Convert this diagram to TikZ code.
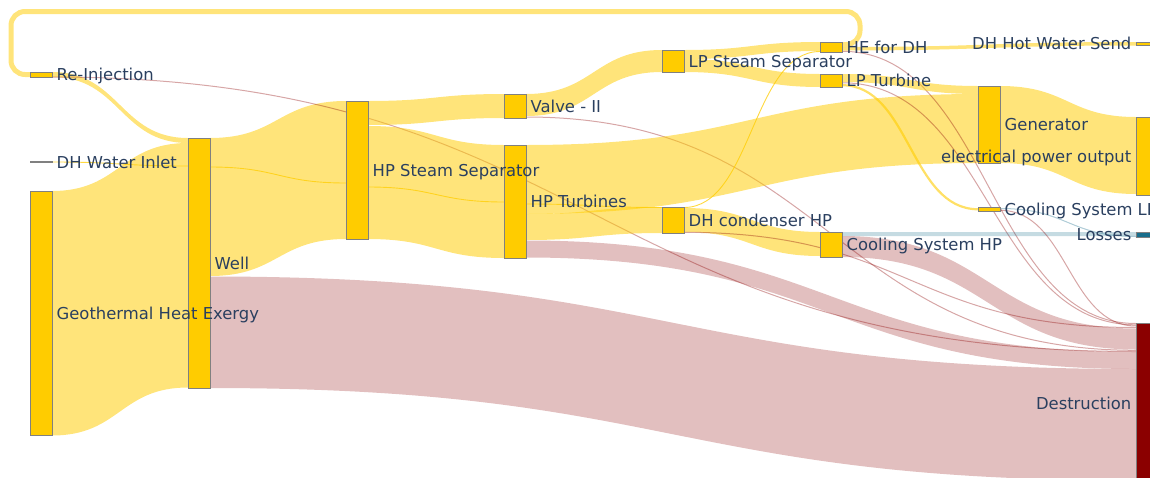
\documentclass[tikz,border=0pt]{standalone}
\usepackage{fontspec}
\setmainfont{DejaVu Sans}
\usetikzlibrary{calc}

\definecolor{nodegold}{RGB}{255,204,0}
\definecolor{nodeedge}{RGB}{128,128,128}
\definecolor{lossteal}{RGB}{25,110,140}
\definecolor{destred}{RGB}{139,0,0}
\definecolor{labelink}{RGB}{42,63,95}

\pgfdeclarelayer{flows}
\pgfsetlayers{flows,main}

% band of given thickness from the right side of one unit to the left side of another
\newcommand\bandflow[6]{%
  \path ($(#2.north east)+(0,#3)$) coordinate (fa)
        ($(#5.north west)+(0,#6)$) coordinate (fb);
  \path ($(fa)!0.5!(fb)$) coordinate (fm)
        (fa) ++(0,#4) coordinate (fc)
        (fb) ++(0,#4) coordinate (fd);
  \fill[#1] (fa) .. controls (fm |- fa) and (fm |- fb) .. (fb) -- (fd)
     .. controls (fm |- fd) and (fm |- fc) .. (fc) -- cycle;}

% hairline stream between two units
\newcommand\lineflow[5]{%
  \path ($(#2.north east)+(0,#3)$) coordinate (fa)
        ($(#4.north west)+(0,#5)$) coordinate (fb);
  \path ($(fa)!0.5!(fb)$) coordinate (fm);
  \draw[#1] (fa) .. controls (fm |- fa) and (fm |- fb) .. (fb);}

\begin{document}
\begin{tikzpicture}[x=1pt,y=-1pt,
  unitbox/.style={draw=nodeedge, line width=0.6pt, fill=nodegold, inner sep=0pt,
    outer sep=0pt, minimum width=22pt},
  lab/.style={text=labelink, font=\fontsize{16.4}{19}\selectfont, inner sep=0pt,
    text height=12pt, text depth=0pt},
  yflow/.style={fill=nodegold, fill opacity=0.52},
  rflow/.style={fill=destred, fill opacity=0.25},
  bflow/.style={fill=lossteal, fill opacity=0.25},
  ythin/.style={draw=nodegold, draw opacity=0.75, line width=0.9pt},
  ythick/.style={draw=nodegold, draw opacity=0.6, line width=2.2pt},
  rthin/.style={draw=destred, draw opacity=0.35, line width=1pt},
  bthin/.style={draw=lossteal, draw opacity=0.35, line width=1pt},
  yloop/.style={draw=nodegold, draw opacity=0.52, line width=5pt, rounded corners=14pt},
]
\useasboundingbox (0,0) rectangle (1150,477);
\clip (0,0) rectangle (1150,477);

% ---- plant units ----
\node[unitbox, minimum height=5.5pt] (reinj) at (41,74.75) {};
\node[unitbox, minimum height=1pt] (dhin) at (41,162) {};
\node[unitbox, minimum height=244.5pt] (geo) at (41,313.25) {};
\node[unitbox, minimum height=250pt] (well) at (199,263) {};
\node[unitbox, minimum height=138pt] (hpsep) at (357,170) {};
\node[unitbox, minimum height=24pt] (valve) at (515,106) {};
\node[unitbox, minimum height=113pt] (hpt) at (515,201.5) {};
\node[unitbox, minimum height=22pt] (lpsep) at (673,61) {};
\node[unitbox, minimum height=26pt] (dhcond) at (673,220) {};
\node[unitbox, minimum height=10pt] (he) at (831,47) {};
\node[unitbox, minimum height=13pt] (lpt) at (831,80.5) {};
\node[unitbox, minimum height=25pt] (coolhp) at (831,244.5) {};
\node[unitbox, minimum height=77pt] (gen) at (989,124.5) {};
\node[unitbox, minimum height=3.5pt] (coollp) at (989,209.25) {};
\node[unitbox, minimum height=3.5pt] (dhhws) at (1147,43.75) {};
\node[unitbox, minimum height=78pt] (epo) at (1147,156) {};
\node[unitbox, minimum height=5pt, fill=lossteal] (losses) at (1147,234.5) {};
\node[unitbox, minimum height=160pt, fill=destred] (destr) at (1147,403) {};

% ---- streams ----
\begin{pgfonlayer}{flows}
\begin{scope}
\clip (0,0) rectangle (1150,477);
\bandflow{yflow}{geo}{0}{244.5}{well}{5}
\bandflow{yflow}{reinj}{0}{5}{well}{0}
\lineflow{ythin}{dhin}{0.5}{well}{28}
\bandflow{yflow}{well}{0}{138}{hpsep}{0}
\bandflow{rflow}{well}{138.5}{111.5}{destr}{46}
\lineflow{ythin}{well}{29}{hpsep}{82}
\lineflow{rthin}{reinj}{5}{destr}{28.5}
\bandflow{yflow}{hpsep}{0}{24}{valve}{0}
\bandflow{yflow}{hpsep}{25}{113}{hpt}{0}
\lineflow{ythin}{hpsep}{86}{hpt}{57}
\bandflow{yflow}{valve}{0}{22}{lpsep}{0}
\lineflow{rthin}{valve}{23}{destr}{27.3}
\bandflow{yflow}{hpt}{0}{69}{gen}{8}
\bandflow{yflow}{hpt}{69}{26}{dhcond}{0}
\bandflow{rflow}{hpt}{95.5}{17}{destr}{29}
\lineflow{ythin}{hpt}{59}{dhcond}{0.5}
\bandflow{yflow}{lpsep}{0}{9}{he}{0}
\bandflow{yflow}{lpsep}{9}{13}{lpt}{0}
\lineflow{ythin}{dhcond}{0.5}{he}{9.5}
\bandflow{yflow}{dhcond}{1}{24}{coolhp}{0}
\lineflow{rthin}{dhcond}{25.3}{destr}{4.5}
% return stream from the heat exchanger back to re-injection
\path ($(he.north east)+(0,2.5)$) coordinate (la)
      ($(reinj.north west)+(0,2.5)$) coordinate (lb);
\coordinate (lc) at (11,11.5);
\draw[yloop] (la) -- ++(18,0) |- (lc) |- (lb);
\bandflow{yflow}{he}{5}{3.5}{dhhws}{0}
\lineflow{rthin}{he}{9.3}{destr}{0.5}
\bandflow{yflow}{lpt}{0}{8}{gen}{0}
\lineflow{rthin}{lpt}{8.8}{destr}{1.8}
\lineflow{ythick}{lpt}{11.2}{coollp}{1.75}
\bandflow{bflow}{coolhp}{0}{4}{losses}{0}
\bandflow{rflow}{coolhp}{4}{21}{destr}{5.5}
\bandflow{yflow}{gen}{0}{77}{epo}{0}
\lineflow{bthin}{coollp}{1}{losses}{4.5}
\lineflow{rthin}{coollp}{2.8}{destr}{3}
\end{scope}
\end{pgfonlayer}

% ---- labels ----
\node[lab, anchor=west] (reinj-t) at ([xshift=4.5pt]reinj.east) {Re-Injection};
\node[lab, anchor=west] (dhin-t) at ([xshift=4.5pt]dhin.east) {DH Water Inlet};
\node[lab, anchor=west] (geo-t) at ([xshift=4.5pt]geo.east) {Geothermal Heat Exergy};
\node[lab, anchor=west] (well-t) at ([xshift=4.5pt]well.east) {Well};
\node[lab, anchor=west] (hpsep-t) at ([xshift=4.5pt]hpsep.east) {HP Steam Separator};
\node[lab, anchor=west] (valve-t) at ([xshift=4.5pt]valve.east) {Valve - II};
\node[lab, anchor=west] (hpt-t) at ([xshift=4.5pt]hpt.east) {HP Turbines};
\node[lab, anchor=west] (lpsep-t) at ([xshift=4.5pt]lpsep.east) {LP Steam Separator};
\node[lab, anchor=west] (dhcond-t) at ([xshift=4.5pt]dhcond.east) {DH condenser HP};
\node[lab, anchor=west] (he-t) at ([xshift=4.5pt]he.east) {HE for DH};
\node[lab, anchor=west] (lpt-t) at ([xshift=4.5pt]lpt.east) {LP Turbine};
\node[lab, anchor=west] (coolhp-t) at ([xshift=4.5pt]coolhp.east) {Cooling System HP};
\node[lab, anchor=west] (gen-t) at ([xshift=4.5pt]gen.east) {Generator};
\node[lab, anchor=west] (coollp-t) at ([xshift=4.5pt]coollp.east) {Cooling System LP};
\node[lab, anchor=east] (dhhws-t) at ([xshift=-4.5pt]dhhws.west) {DH Hot Water Send};
\node[lab, anchor=east] (epo-t) at ([xshift=-4.5pt]epo.west) {electrical power output};
\node[lab, anchor=east] (losses-t) at ([xshift=-4.5pt]losses.west) {Losses};
\node[lab, anchor=east] (destr-t) at ([xshift=-4.5pt]destr.west) {Destruction};
\end{tikzpicture}
\end{document}
